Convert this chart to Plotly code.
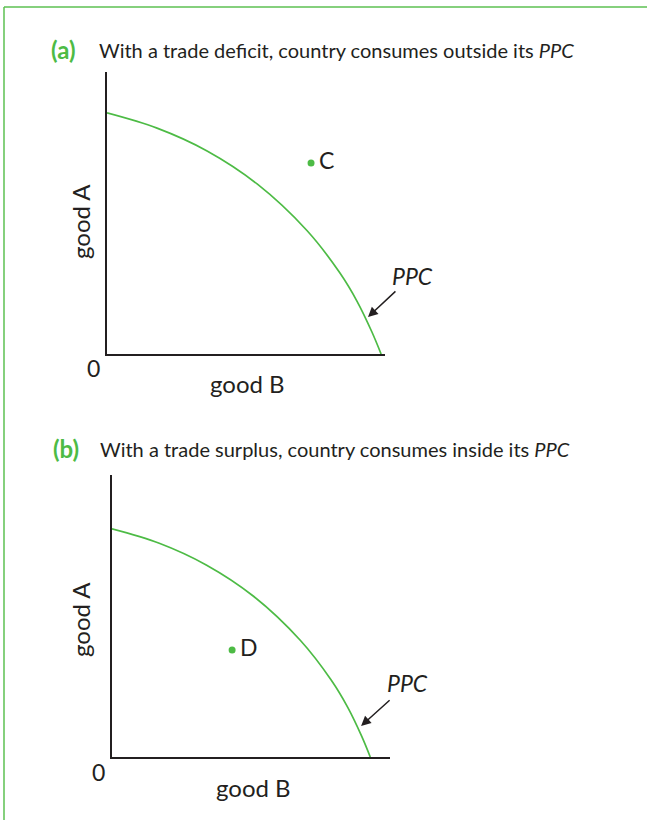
import plotly.graph_objects as go

# ---- data (units: 0-100 along each axis) ----
ppc_a_x = [0, 18, 36, 54, 72, 83.8, 90, 95.3, 98.6]
ppc_a_y = [85.5, 80.1, 72.0, 60.3, 43.7, 28.7, 18.6, 7.8, 0]
ppc_b_x = [0, 17.0, 33.9, 50.9, 67.8, 78.9, 84.8, 89.8, 92.9]
ppc_b_y = [80.9, 75.8, 68.1, 57.0, 41.3, 27.2, 17.6, 7.4, 0]
point_c = (73.4, 67.7)
point_d = (43.2, 37.9)
titles = ["With a trade deficit, country consumes outside its <i>PPC</i>",
          "With a trade surplus, country consumes inside its <i>PPC</i>"]
panel_tags = ["(a)", "(b)"]

GREEN = "#4dbb45"
INK = "#231f20"
FONT = "Lato"

W, H = 647, 820
def px(x): return x / W
def py(y): return 1 - y / H

fig = go.Figure()

# panel (a)
fig.add_trace(go.Scatter(x=ppc_a_x, y=ppc_a_y, mode="lines", line=dict(color=GREEN, width=1.7, shape="spline"),
                         xaxis="x", yaxis="y", hoverinfo="skip", showlegend=False))
fig.add_trace(go.Scatter(x=[point_c[0]], y=[point_c[1]], mode="markers", marker=dict(color=GREEN, size=7),
                         xaxis="x", yaxis="y", hoverinfo="skip", showlegend=False))
# panel (b)
fig.add_trace(go.Scatter(x=ppc_b_x, y=ppc_b_y, mode="lines", line=dict(color=GREEN, width=1.7, shape="spline"),
                         xaxis="x2", yaxis="y2", hoverinfo="skip", showlegend=False))
fig.add_trace(go.Scatter(x=[point_d[0]], y=[point_d[1]], mode="markers", marker=dict(color=GREEN, size=7),
                         xaxis="x2", yaxis="y2", hoverinfo="skip", showlegend=False))

ax_common = dict(range=[0, 100], showgrid=False, zeroline=False, showticklabels=False, ticks="",
                 showline=True, linecolor=INK, linewidth=2, fixedrange=True)

fig.update_layout(
    width=W, height=H, autosize=False,
    margin=dict(l=0, r=0, t=0, b=0),
    paper_bgcolor="white", plot_bgcolor="white",
    font=dict(family=FONT, color=INK, size=19),
    xaxis=dict(domain=[px(107), px(385)], anchor="y", **ax_common),
    yaxis=dict(domain=[py(354), py(72)], anchor="x", **ax_common),
    xaxis2=dict(domain=[px(112), px(390)], anchor="y2", **ax_common),
    yaxis2=dict(domain=[py(757), py(475)], anchor="x2", **ax_common),
)

ann = []
# titles
for tag, t, tx, x0, y0 in [(panel_tags[0], titles[0], 49, 97, 50), (panel_tags[1], titles[1], 51, 98, 449)]:
    ann.append(dict(xref="paper", yref="paper", x=px(tx), y=py(y0 - 1), xanchor="left", yanchor="middle",
                    showarrow=False, font=dict(size=24, family=FONT, color=GREEN),
                    text=f"<b>{tag}</b>"))
    ann.append(dict(xref="paper", yref="paper", x=px(x0), y=py(y0), xanchor="left", yanchor="middle",
                    showarrow=False, font=dict(size=20, family=FONT, color=INK), text=t))

# axis labels
for ox, oy, gbx, gby, gax, gay in [(93, 368, 247, 383, 80, 222),
                                   (98, 772, 253, 787, 80, 620)]:
    ann.append(dict(xref="paper", yref="paper", x=px(ox), y=py(oy), text="0", showarrow=False,
                    xanchor="center", yanchor="middle", font=dict(size=23)))
    ann.append(dict(xref="paper", yref="paper", x=px(gbx), y=py(gby), text="good B", showarrow=False,
                    xanchor="center", yanchor="middle", font=dict(size=24)))
    ann.append(dict(xref="paper", yref="paper", x=px(gax), y=py(gay), text="good A", showarrow=False,
                    textangle=-90, xanchor="center", yanchor="middle", font=dict(size=24)))

# point labels
ann.append(dict(xref="x", yref="y", x=point_c[0] + 2.0, y=point_c[1] + 1, text="C", showarrow=False,
                xanchor="left", yanchor="middle", font=dict(size=23)))
ann.append(dict(xref="x2", yref="y2", x=point_d[0] + 2.0, y=point_d[1] + 1, text="D", showarrow=False,
                xanchor="left", yanchor="middle", font=dict(size=23)))

# PPC arrows
for xr, yr, tip, tail in [("x", "y", (93.9, 13.1), (104.3, 22.7)),
                          ("x2", "y2", (89.6, 11.0), (100.4, 20.6))]:
    ann.append(dict(xref=xr, yref=yr, x=tip[0], y=tip[1], axref=xr, ayref=yr, ax=tail[0], ay=tail[1],
                    text="", showarrow=True, arrowhead=2, arrowsize=1.3, arrowwidth=1.5, arrowcolor=INK))
for lx, ly in [(412, 276), (407, 683)]:
    ann.append(dict(xref="paper", yref="paper", x=px(lx), y=py(ly), text="<i>PPC</i>", showarrow=False,
                    xanchor="center", yanchor="middle", font=dict(size=23)))

fig.update_layout(annotations=ann)

# green frame (top and left)
fig.add_shape(type="line", xref="paper", yref="paper", x0=px(4), y0=py(7), x1=1, y1=py(7),
              line=dict(color="#5cc052", width=1.5))
fig.add_shape(type="line", xref="paper", yref="paper", x0=px(4), y0=py(7), x1=px(4), y1=0,
              line=dict(color="#5cc052", width=1.5))

fig.write_html("out.html", config={"displayModeBar": False},
               post_script="document.body.style.margin='0px';document.body.style.overflow='hidden';")
